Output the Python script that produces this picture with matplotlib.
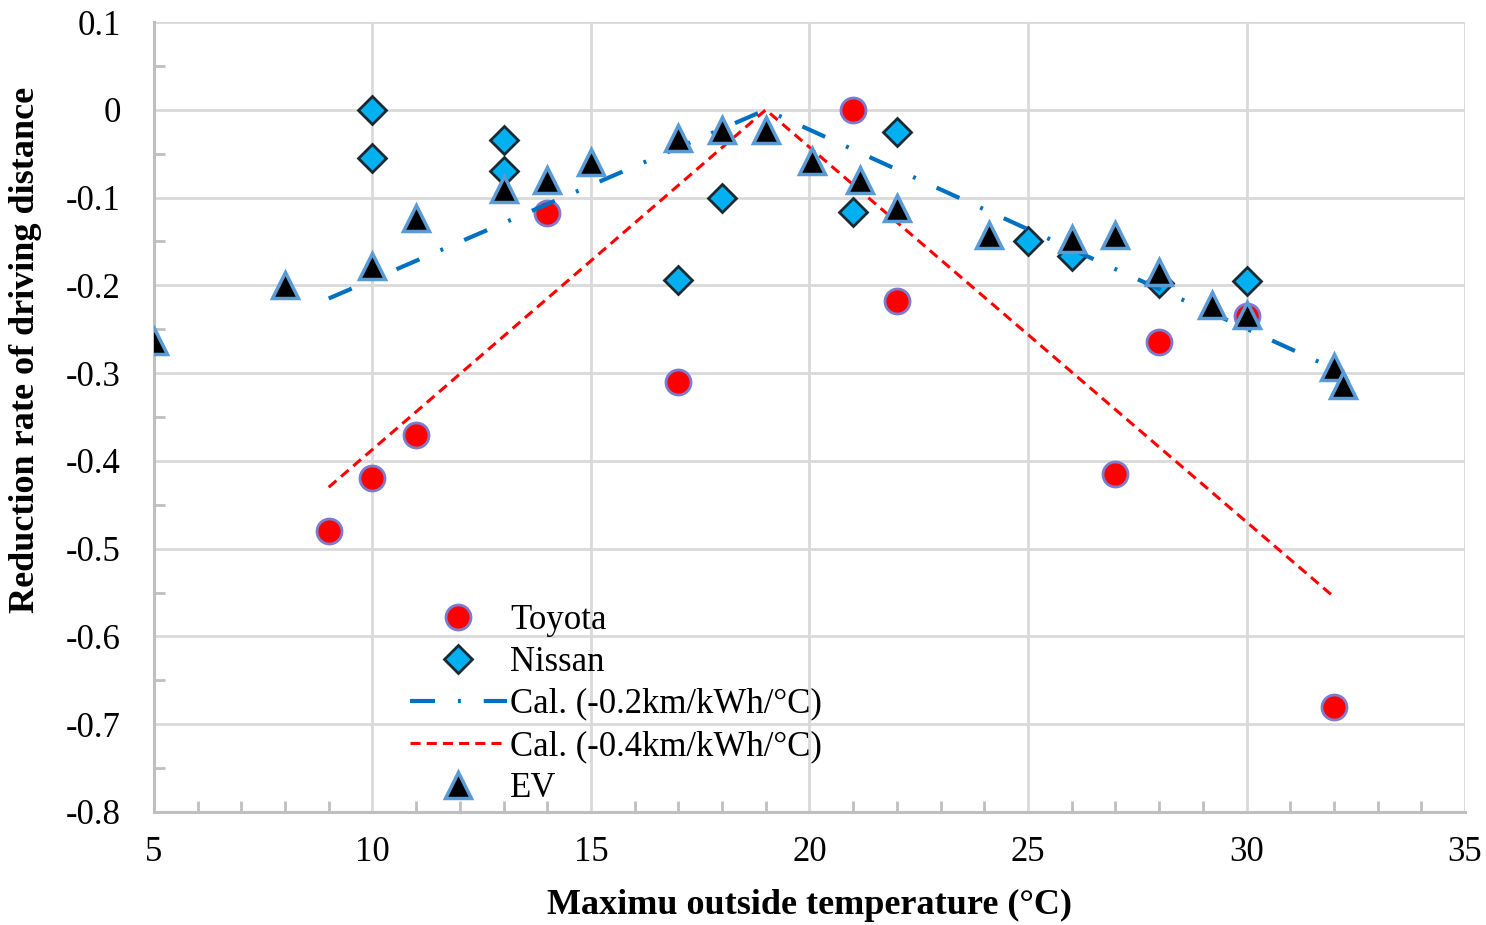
import numpy as np
import matplotlib
matplotlib.use('Agg')
import matplotlib.pyplot as plt
from matplotlib.ticker import MultipleLocator, FuncFormatter

plt.rcParams['font.family'] = ['Liberation Serif', 'DejaVu Serif']
plt.rcParams['axes.unicode_minus'] = False

# data
toyota_t = [9, 10, 11, 14, 17, 21, 22, 27, 28, 30, 32]
toyota_r = [-0.48, -0.42, -0.37, -0.118, -0.31, 0.0, -0.218, -0.415, -0.264, -0.235, -0.68]

nissan_t = [10, 10, 13, 13, 17, 18, 21, 22, 25, 26, 28, 30]
nissan_r = [0.0, -0.055, -0.034, -0.07, -0.194, -0.1, -0.117, -0.025, -0.15, -0.167, -0.197, -0.195]

ev_t = [5, 8, 10, 11, 13, 14, 15, 17, 18, 19, 20.05, 21.15, 22, 24.1, 26, 27, 28, 29.2, 30, 32, 32.2]
ev_r = [-0.263, -0.2, -0.178, -0.123, -0.09, -0.08, -0.059, -0.032, -0.023, -0.023, -0.058,
        -0.08, -0.112, -0.143, -0.147, -0.143, -0.185, -0.222, -0.234, -0.293, -0.313]

cal02_t = [9, 19, 32]
cal02_r = [-0.215, 0.0, -0.295]
cal04_t = [9, 19, 32]
cal04_r = [-0.43, 0.0, -0.555]

fig = plt.figure(figsize=(14.86, 9.25), dpi=100)
ax = fig.add_axes([0.1036, 0.1222, 0.8823, 0.854])

ax.plot(toyota_t, toyota_r, 'o', ms=18, mfc='#ff0000', mec='#7b7bd0', mew=2, label='Toyota', zorder=3)
ax.plot(nissan_t, nissan_r, 'D', ms=14.5, mfc='#00b0f0', mec='#1a2a33', mew=2, label='Nissan', zorder=3)
ax.plot(cal02_t, cal02_r, color='#0070c0', lw=3, dashes=(6, 5.5, 0.7, 5.5),
        label='Cal. (-0.2km/kWh/°C)', zorder=3)
ax.plot(cal04_t, cal04_r, color='#ff0000', lw=2.2, dashes=(3.3, 2),
        label='Cal. (-0.4km/kWh/°C)', zorder=3)
ax.plot(ev_t, ev_r, '^', ms=19, mfc='black', mec='#5b9bd5', mew=2.5, label='EV', zorder=4)

ax.set_xlim(5, 35)
ax.set_ylim(-0.8, 0.1)
ax.xaxis.set_major_locator(MultipleLocator(5))
ax.xaxis.set_minor_locator(MultipleLocator(1))
ax.yaxis.set_major_locator(MultipleLocator(0.1))
ax.yaxis.set_minor_locator(MultipleLocator(0.05))
ax.yaxis.set_major_formatter(FuncFormatter(lambda v, p: '%g' % round(v, 2)))

ax.grid(True, which='major', color='#d9d9d9', lw=2, zorder=0)
ax.set_axisbelow(True)
for s in ['top', 'right']:
    ax.spines[s].set_visible(False)
for s in ['left', 'bottom']:
    ax.spines[s].set_color('#bfbfbf')
    ax.spines[s].set_linewidth(2.2)

ax.tick_params(which='major', length=0, labelsize=25, colors='black')
ax.tick_params(axis='x', which='major', pad=17)
ax.tick_params(axis='y', which='major', pad=24)
ax.tick_params(which='minor', direction='in', length=8, width=2, color='#bfbfbf')

ax.set_xlabel('Maximu outside temperature (°C)', fontsize=26, fontweight='bold')
ax.set_ylabel('Reduction rate of driving distance', fontsize=26, fontweight='bold')
ax.xaxis.set_label_coords(0.5, -0.097)
ax.yaxis.set_label_coords(-0.0854, 0.585)

ax.legend(loc='lower left', bbox_to_anchor=(0.195, 0.009), frameon=False, fontsize=25,
          handlelength=2.8, handletextpad=0.1, labelspacing=0.26, borderpad=0, borderaxespad=0)

fig.savefig('out.png', dpi=100)
